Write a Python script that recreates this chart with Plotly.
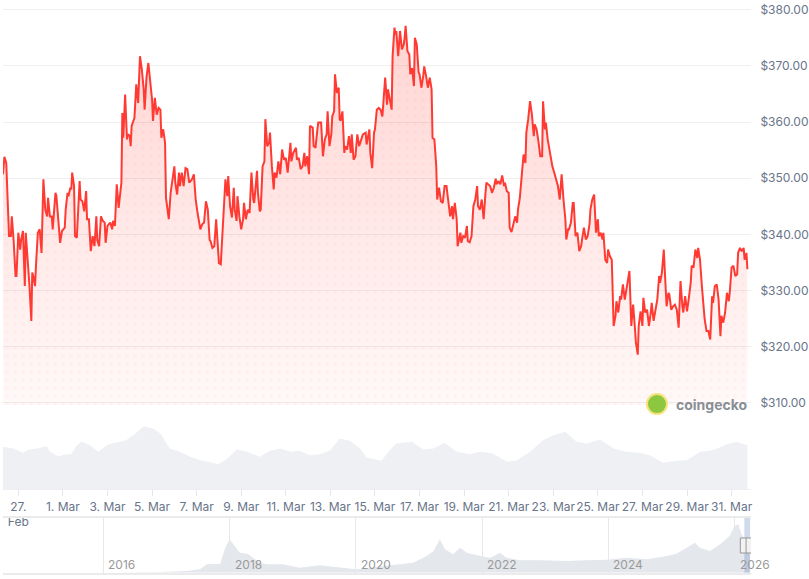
import plotly.graph_objects as go
import pandas as pd

BASE = pd.Timestamp("2026-02-27 00:00")

# price series: hours since 27 Feb 2026 00:00, price in USD
price_hours = [-16.5, -15, -13, -11, -10, -8, -7, -5, -3, -2, 0, 2, 3, 5, 6, 7, 8, 10, 12, 14, 15, 16, 18, 19, 21, 23, 25, 27, 29, 31, 32, 34, 36, 37, 40, 41, 43, 45, 47, 50, 51, 53, 54, 56, 57, 58, 60, 61, 63, 66, 67, 69, 71, 73, 74, 76, 78, 80, 82, 84, 85, 87, 89, 91, 93, 94, 96, 99, 101, 102, 104, 106, 108, 111, 112, 113, 115, 117, 118, 120, 121, 122, 125, 126, 127, 129, 131, 133, 135, 136, 138, 140, 142, 144, 145, 147, 149, 151, 153, 154, 156, 158, 159, 162, 164, 165, 168, 169, 171, 173, 174, 176, 178, 180, 182, 184,
               187, 189, 191, 193, 195, 196, 198, 200, 202, 204, 206, 207, 209, 211, 213, 215, 216, 218, 220, 221, 223, 225, 226, 228, 230, 232, 233, 235, 236, 238, 240, 242, 243, 245, 247, 249, 251, 253, 254, 257, 258, 260, 261, 263, 265, 266, 268, 270, 271, 273, 275, 276, 278, 280, 282, 284, 286, 288, 290, 293, 294, 296, 299, 300, 302, 304, 306, 308, 309, 311, 313, 314, 317, 318, 320, 322, 323, 326, 328, 330, 332, 333, 335, 337, 338, 340, 341, 343, 345, 346, 347, 349, 351, 352, 354, 356, 358, 359, 361, 363, 365, 367, 369, 371, 374, 375, 378, 379, 381, 383,
               384, 386, 388, 390, 392, 393, 395, 397, 398, 400, 402, 403, 405, 406, 407, 409, 411, 413, 415, 416, 417, 419, 421, 422, 424, 426, 427, 429, 431, 432, 434, 436, 437, 439, 441, 443, 445, 446, 448, 450, 451, 453, 455, 457, 459, 461, 463, 465, 467, 468, 470, 472, 473, 476, 477, 479, 481, 483, 484, 486, 488, 490, 492, 494, 495, 497, 499, 501, 503, 504, 506, 508, 510, 512, 514, 515, 517, 519, 521, 523, 524, 526, 528, 529, 531, 533, 535, 537, 538, 540, 542, 544, 546, 547, 549, 551, 553, 555, 556, 558, 560, 562, 564, 565, 567, 568, 570, 572, 574, 575, 577,
               581, 583, 584, 585, 587, 589, 590, 592, 593, 595, 597, 598, 600, 602, 604, 606, 607, 609, 611, 613, 615, 616, 618, 620, 622, 624, 625, 627, 629, 630, 632, 634, 635, 637, 639, 641, 643, 644, 646, 648, 649, 651, 653, 655, 657, 658, 660, 662, 664, 665, 667, 668, 670, 672, 673, 675, 677, 679, 681, 682, 684, 686, 688, 690, 691, 693, 695, 696, 698, 700, 701, 703, 705, 707, 709, 711, 713, 715, 716, 718, 720, 722, 724, 725, 727, 729, 731, 732, 734, 736, 738, 739, 741, 743, 745, 747, 748, 750, 752, 754, 756, 757, 759, 761, 763, 765, 766, 768, 770, 772, 774, 775, 777, 779, 781, 782, 784, 785]
price_usd = [350.7, 353.8, 352.7, 345, 339.7, 339.7, 343.2, 338.8, 332.6, 332.6, 340.3, 337.3, 339, 340.6, 336.7, 330.8, 340.3, 336.1, 330.8, 324.6, 333.2, 332.6, 330.8, 334.4, 340.3, 340.9, 336.7, 349.8, 344.4, 343.2, 346.5, 343.2, 343.2, 340.9, 347.4, 346.8, 342.7, 338.5, 340.6, 341.2, 344.4, 347.4, 346.8, 348.3, 348, 351, 348.6, 339.7, 339.4, 349.5, 346.2, 345.9, 344.1, 347.7, 342.7, 342.7, 337, 339.7, 337.9, 343.2, 339, 337.9, 343.2, 342.4, 342.1, 338.5, 341.5, 342.1, 340.9, 342.4, 341.5, 348.9, 344.7, 349.2, 361.6, 357.2, 364.9, 356.9, 357.8, 357.5, 355.7, 359.3, 360.7, 363.1, 366.7, 363.4, 371.7, 369.3, 365.8, 362.2, 367.9, 370.5, 367.6, 364, 360.2, 364.3, 361.3, 362.5, 362.2, 357.2, 358.7, 356.3, 346.5, 342.7, 347.4, 348.6, 352.1, 349.2, 347.1, 351, 348.6, 351, 348.6, 351.8, 351.6, 349.2,
             349.8, 350.7, 346.2, 343.8, 341.8, 340.9, 341.8, 342.1, 345.9, 344.4, 339, 338.8, 337.6, 337.9, 342.7, 338.5, 334.9, 334.7, 341.2, 342.1, 349.8, 346.8, 350.4, 345, 343, 348.3, 344.4, 342.4, 346.8, 343.2, 340.9, 342.7, 345.6, 342.7, 344.4, 343.8, 351, 346.2, 345.6, 351.3, 347.4, 344.1, 344.4, 352.1, 353, 360.5, 355.7, 356.3, 358.1, 352.1, 348, 351, 350.1, 353, 350.7, 355.1, 353.3, 353.6, 351, 356.3, 353, 354.5, 355.4, 353.3, 353.6, 351.6, 352.1, 354.5, 352.1, 353.9, 350.7, 359.3, 359, 355.7, 355.4, 358.7, 359.9, 359.9, 353.9, 356.9, 357.8, 361.9, 355.7, 357.8, 361, 361.9, 368.5, 365.2, 366.1, 360.5, 360.2, 361.9, 354.5, 355.7, 355.1, 357.5, 354.5, 357.8, 353.3, 353.9, 357.8, 355.7, 356.6, 357.8, 358.1, 356, 358.7, 354.5, 351.8, 358.1,
             358.7, 362.2, 362.5, 362.2, 361, 363.7, 367.9, 363.1, 365.8, 364, 362.2, 371.7, 376.8, 375.6, 376.2, 371.7, 376.2, 372.9, 373.8, 375, 377.1, 372.6, 372, 368.5, 369.6, 366.4, 375, 373.8, 368.8, 368.5, 366.1, 368.2, 369.9, 368.2, 366.1, 367.9, 365.8, 357.2, 356.9, 352.1, 346.2, 348.3, 345.9, 345.6, 348.6, 348.6, 345.9, 343.2, 345, 342.7, 345.6, 342.7, 337.9, 340.3, 338.5, 339.7, 339.4, 341.5, 338.8, 338.6, 339.7, 345, 346.2, 348.6, 345, 344.4, 346.2, 342.7, 347.4, 349.2, 348.9, 348.6, 347.4, 348.3, 349.9, 348.9, 349.5, 348.9, 350.5, 348.6, 349.2, 347.7, 347.4, 341.2, 340.4, 341.8, 343.2, 342.1, 344.4, 346.5, 349.8, 354.2, 352.7, 358.1, 360.5, 363.7, 361.3, 357.5, 359.6, 358.7, 356.6, 353.9, 353.9, 363.7, 358.7, 359.9, 356.9, 354.8, 353, 352.1, 351,
             348.6, 346.2, 349.2, 350.7, 346.2, 342.7, 339.1, 340.9, 340.9, 342.1, 345.6, 345.6, 339.7, 340.3, 337, 337.9, 339.1, 341.2, 339.1, 339.7, 341.8, 344.4, 346.2, 347.1, 340.3, 342.7, 339.7, 340.3, 339.1, 340.3, 335.5, 334.9, 337.3, 336.1, 335.5, 323.7, 325.5, 328.1, 326.1, 329, 328.4, 331.1, 328.4, 330.8, 333.2, 333.5, 323.7, 327.5, 323.1, 320.7, 318.6, 323.7, 326.3, 323.7, 328.7, 326.1, 326.6, 323.7, 326.1, 327.8, 324.6, 326.6, 328.4, 332.6, 331.4, 333.2, 337.3, 333.8, 327.2, 329.6, 329.3, 326.6, 327.2, 327.5, 326.6, 323.4, 331.7, 327.2, 326.1, 329, 326.3, 328.7, 331.4, 334.4, 334.1, 337.3, 335.8, 337.6, 335.5, 330.8, 326.6, 324.9, 322.8, 322.8, 321.3, 329, 327.8, 330.8, 331.1, 328.4, 321.9, 325.5, 324.3, 326.1, 329.6, 328.1, 329.6, 334.1, 334.4, 332.6, 332.9, 336.7, 337.6, 337, 337.6, 335.5, 336.7, 333.8]

# 24h volume (relative units), hours since 27 Feb 2026
vol_hours = [-16.5, -5, 5, 11, 20, 31, 34, 43, 52, 57, 63, 68, 77, 86, 95, 104, 115, 124, 135, 145, 153, 163, 174, 185, 196, 205, 215, 224, 235, 246, 260, 271, 282, 293, 303, 314, 325, 336, 346, 357, 368, 375, 391, 400, 407, 424, 436, 447, 459, 472, 486, 497, 511, 526, 537, 551, 565, 576, 589, 601, 612, 626, 641, 655, 669, 680, 694, 709, 720, 734, 748, 763, 773, 785]
vol_level = [128, 123, 110, 120, 123, 130, 113, 100, 106, 106, 133, 143, 133, 113, 133, 140, 146, 163, 190, 183, 168, 123, 113, 98, 88, 83, 76, 90, 120, 113, 98, 116, 123, 113, 116, 103, 106, 118, 153, 146, 123, 96, 86, 118, 138, 143, 120, 123, 140, 113, 106, 113, 108, 83, 88, 113, 148, 163, 173, 143, 138, 150, 123, 113, 110, 103, 80, 86, 88, 113, 118, 136, 143, 133]

# navigator (full history, relative units), decimal years
nav_years = [2014.41, 2016.0, 2016.9, 2017.32, 2017.53, 2017.64, 2017.85, 2017.93, 2018.0, 2018.06, 2018.12, 2018.16, 2018.29, 2018.37, 2018.48, 2018.59, 2018.85, 2019.11, 2019.43, 2019.64, 2020.01, 2020.22, 2020.43, 2020.70, 2020.91, 2021.12, 2021.23, 2021.33, 2021.41, 2021.54, 2021.65, 2021.76, 2021.97, 2022.13, 2022.28, 2022.39, 2022.60, 2022.92, 2023.34, 2023.66, 2023.97, 2024.29, 2024.61, 2024.93, 2025.08, 2025.24, 2025.37, 2025.45, 2025.61, 2025.77, 2025.92, 2026.0, 2026.06, 2026.11, 2026.19, 2026.24]
nav_level = [0, 0, 2, 5, 10, 25, 27, 75, 100, 85, 70, 60, 57, 45, 30, 25, 25, 15, 22, 18, 10, 15, 20, 25, 30, 50, 65, 100, 70, 55, 75, 60, 50, 45, 60, 45, 37, 37, 35, 37, 39, 45, 40, 50, 57, 75, 90, 75, 65, 85, 110, 140, 145, 115, 95, 100]

tick_dates = ["2026-02-27", "2026-03-01", "2026-03-03", "2026-03-05", "2026-03-07", "2026-03-09", "2026-03-11", "2026-03-13", "2026-03-15", "2026-03-17", "2026-03-19", "2026-03-21", "2026-03-23", "2026-03-25", "2026-03-27", "2026-03-29", "2026-03-31"]
tick_labels = ["27.<br>Feb", "1. Mar", "3. Mar", "5. Mar", "7. Mar", "9. Mar", "11. Mar", "13. Mar", "15. Mar", "17. Mar", "19. Mar", "21. Mar", "23. Mar", "25. Mar", "27. Mar", "29. Mar", "31. Mar"]
price_ticks = [310, 320, 330, 340, 350, 360, 370, 380]
year_ticks = [2016, 2018, 2020, 2022, 2024, 2026]


def h2t(hs):
    return [BASE + pd.Timedelta(hours=h) for h in hs]


def yr2t(ys):
    return [pd.Timestamp(f"{int(y)}-01-01") + pd.Timedelta(days=(y - int(y)) * 365.25) for y in ys]


FONT = "Inter, Roboto, sans-serif"
LABEL = "#687489"
t_price = h2t(price_hours)

fig = go.Figure()
fig.add_trace(go.Scatter(
    x=t_price, y=price_usd, mode="none", fill="tozeroy",
    fillgradient=dict(type="vertical", start=310, stop=378,
                      colorscale=[[0, "rgba(255,59,48,0.03)"], [0.5, "rgba(255,59,48,0.12)"], [1, "rgba(255,59,48,0.22)"]]),
    xaxis="x", yaxis="y", hoverinfo="skip"))
fig.add_trace(go.Scatter(
    x=t_price, y=price_usd, mode="none", fill="tozeroy", fillcolor="rgba(0,0,0,0)",
    fillpattern=dict(shape=".", fgcolor="rgba(255,90,90,0.08)", bgcolor="rgba(0,0,0,0)", size=8, solidity=0.25),
    xaxis="x", yaxis="y", hoverinfo="skip"))
fig.add_trace(go.Scatter(
    x=t_price, y=price_usd, mode="lines", line=dict(color="#ff3a33", width=2),
    xaxis="x", yaxis="y"))
fig.add_trace(go.Scatter(
    x=h2t(vol_hours), y=vol_level, mode="none", fill="tozeroy", fillcolor="#eef0f3",
    xaxis="x", yaxis="y2"))
fig.add_trace(go.Scatter(
    x=yr2t(nav_years), y=nav_level, mode="none", fill="tozeroy", fillcolor="#e4e7ec",
    xaxis="x2", yaxis="y3"))

start_t = h2t([price_hours[0]])[0]
end_t = h2t([price_hours[-1]])[0]

annotations = []
for y in year_ticks:
    annotations.append(dict(x=pd.Timestamp(f"{y}-01-01"), xref="x2", y=0.0242, yref="paper",
                            text=str(y), showarrow=False, xanchor="left", yanchor="middle", xshift=3,
                            font=dict(family=FONT, size=12, color="#9a9a9a")))
annotations.append(dict(x=0.9479, y=0.3022, xref="paper", yref="paper", text="<b>coingecko</b>",
                        showarrow=False, xanchor="center", yanchor="middle",
                        font=dict(family=FONT, size=14, color="#8a8e95")))

shapes = [
    dict(type="rect", xref="x2", yref="paper", x0=start_t, x1=end_t, y0=0.0109, y1=0.1054,
         fillcolor="rgba(102,133,194,0.3)", line=dict(width=0), layer="above"),
    dict(type="circle", xref="paper", yref="paper", xsizemode="pixel", ysizemode="pixel",
         xanchor=0.8743, yanchor=0.3022, x0=-10, x1=10, y0=-10, y1=10,
         fillcolor="#8dc63f", line=dict(color="#f6e27a", width=2)),
]
for t in (start_t, end_t):
    shapes.append(dict(type="rect", xref="x2", yref="paper", xsizemode="pixel", xanchor=t,
                       x0=-4, x1=3, y0=0.0449, y1=0.0708,
                       fillcolor="#f2f2f2", line=dict(color="#999999", width=1), layer="above"))

fig.update_layout(
    width=809, height=579,
    margin=dict(l=3, r=58, t=0, b=0),
    paper_bgcolor="white", plot_bgcolor="white",
    showlegend=False,
    font=dict(family=FONT),
    xaxis=dict(domain=[0, 1], anchor="y2", range=h2t([-16.5, 788.9]),
               tickvals=tick_dates, ticktext=tick_labels, ticks="outside", ticklen=6, tickangle=0,
               tickcolor="#e3e6ea", showgrid=False, showline=True, linecolor="#eceef1",
               zeroline=False, tickfont=dict(family=FONT, size=12, color=LABEL), automargin=False),
    yaxis=dict(domain=[0.30052, 1], anchor="x", side="right", range=[309.64, 381.71],
               tickvals=price_ticks, ticktext=[f"${v:.2f}" for v in price_ticks],
               ticks="outside", ticklen=6, tickcolor="rgba(0,0,0,0)",
               showgrid=True, gridcolor="#efefef", zeroline=False, showline=False,
               tickfont=dict(family=FONT, size=12, color=LABEL), automargin=False),
    yaxis2=dict(domain=[0.1546, 0.2919], anchor="x", range=[0, 238.5], visible=False),
    xaxis2=dict(domain=[0, 1], anchor="y3", range=yr2t([2014.41, 2026.26]),
                tickvals=[pd.Timestamp(f"{y}-01-01") for y in year_ticks], showticklabels=False,
                showgrid=True, gridcolor="#e8e8e8", ticks="", showline=True, mirror=True,
                linecolor="#ebebeb", linewidth=2, zeroline=False),
    yaxis3=dict(domain=[0.0109, 0.1054], anchor="x2", range=[0, 164], visible=False),
    annotations=annotations,
    shapes=shapes,
)

fig.write_html("out.html", config={"displayModeBar": False},
               post_script="document.body.style.margin='0';document.body.style.overflow='hidden';")
